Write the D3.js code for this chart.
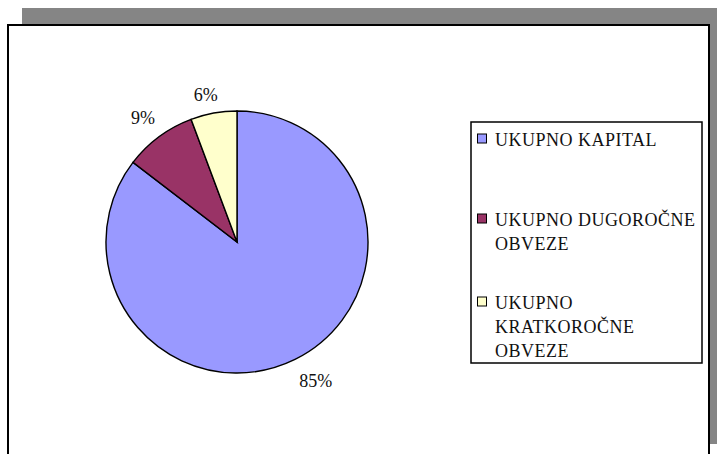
<!DOCTYPE html>
<html>
<head>
	<meta charset="UTF-8">
	<title>Pie chart</title>
	<style type="text/css">
		body {
			margin: 0;
			background: #fff;
		}
	</style>
	<script src="https://cdnjs.cloudflare.com/ajax/libs/d3/7.8.5/d3.min.js"></script>
</head>
<body>
<script type="text/javascript">
	// data
	var categories = ["UKUPNO KAPITAL", "UKUPNO DUGOROČNE OBVEZE", "UKUPNO KRATKOROČNE OBVEZE"];
	var values = [85.4, 8.9, 5.7];
	var colors = ["#9999ff", "#993366", "#ffffcc"];
	// legend text as it wraps in the box
	var legendLines = [["UKUPNO KAPITAL"], ["UKUPNO DUGOROČNE", "OBVEZE"], ["UKUPNO", "KRATKOROČNE", "OBVEZE"]];

	var fullWidth = 717, fullHeight = 454;

	var svg = d3.select("body").append("svg")
		.attr("width", fullWidth)
		.attr("height", fullHeight);

	// shadow behind the chart area
	svg.append("rect")
		.attr("x", 22).attr("y", 8)
		.attr("width", 700).attr("height", 436)
		.attr("fill", "#858585");

	// chart area frame
	svg.append("rect")
		.attr("x", 8).attr("y", 25)
		.attr("width", 701).attr("height", 450)
		.attr("fill", "#fff")
		.attr("stroke", "#000")
		.attr("stroke-width", 2);

	// pie
	var cx = 237, cy = 242, r = 131;
	var total = d3.sum(values);
	var pct = d3.format(".0%");

	var pie = d3.pie().sort(null).value(function(d){ return d; });
	var arcs = pie(values);
	var arc = d3.arc().innerRadius(0).outerRadius(r);
	var labelArc = d3.arc().innerRadius(r + 22).outerRadius(r + 22);
	// small hand nudges, labels are not quite on the centroid ring
	var nudge = [[11, 2], [-3, -1], [-4, 3]];

	var g = svg.append("g").attr("transform", "translate(" + cx + "," + cy + ")");

	g.selectAll(".slice")
		.data(arcs)
		.enter().append("path")
		.attr("class", "slice")
		.attr("d", arc)
		.attr("fill", function(d, i){ return colors[i]; })
		.attr("stroke", "#000")
		.attr("stroke-width", 1.4);

	g.selectAll(".lbl")
		.data(arcs)
		.enter().append("text")
		.attr("class", "lbl")
		.attr("text-anchor", "middle")
		.attr("dy", "0.35em")
		.attr("font-family", "Liberation Serif")
		.attr("font-size", 18)
		.attr("fill", "#111")
		.attr("transform", function(d, i){
			var c = labelArc.centroid(d);
			return "translate(" + (c[0] + nudge[i][0]) + "," + (c[1] + nudge[i][1]) + ")";
		})
		.text(function(d){ return pct(d.value / total); });

	// legend
	var legend = svg.append("g");
	legend.append("rect")
		.attr("x", 471).attr("y", 122)
		.attr("width", 231).attr("height", 241)
		.attr("fill", "#fff")
		.attr("stroke", "#000")
		.attr("stroke-width", 1.5);

	var entryY = [138.5, 218.5, 301.5];
	var item = legend.selectAll(".item")
		.data(categories)
		.enter().append("g")
		.attr("class", "item")
		.attr("transform", function(d, i){ return "translate(477," + entryY[i] + ")"; });

	item.append("rect")
		.attr("x", 0.5).attr("y", -4.5)
		.attr("width", 9).attr("height", 9)
		.attr("fill", function(d, i){ return colors[i]; })
		.attr("stroke", "#000")
		.attr("stroke-width", 1);

	item.each(function(d, i){
		var t = d3.select(this).append("text")
			.attr("x", 18)
			.attr("y", 7)
			.attr("font-family", "Liberation Serif")
			.attr("font-size", 18)
			.attr("letter-spacing", 0.5)
			.attr("fill", "#111");
		legendLines[i].forEach(function(line, j){
			t.append("tspan")
				.attr("x", 18)
				.attr("dy", j === 0 ? 0 : 24)
				.text(line);
		});
	});
</script>
</body>
</html>
